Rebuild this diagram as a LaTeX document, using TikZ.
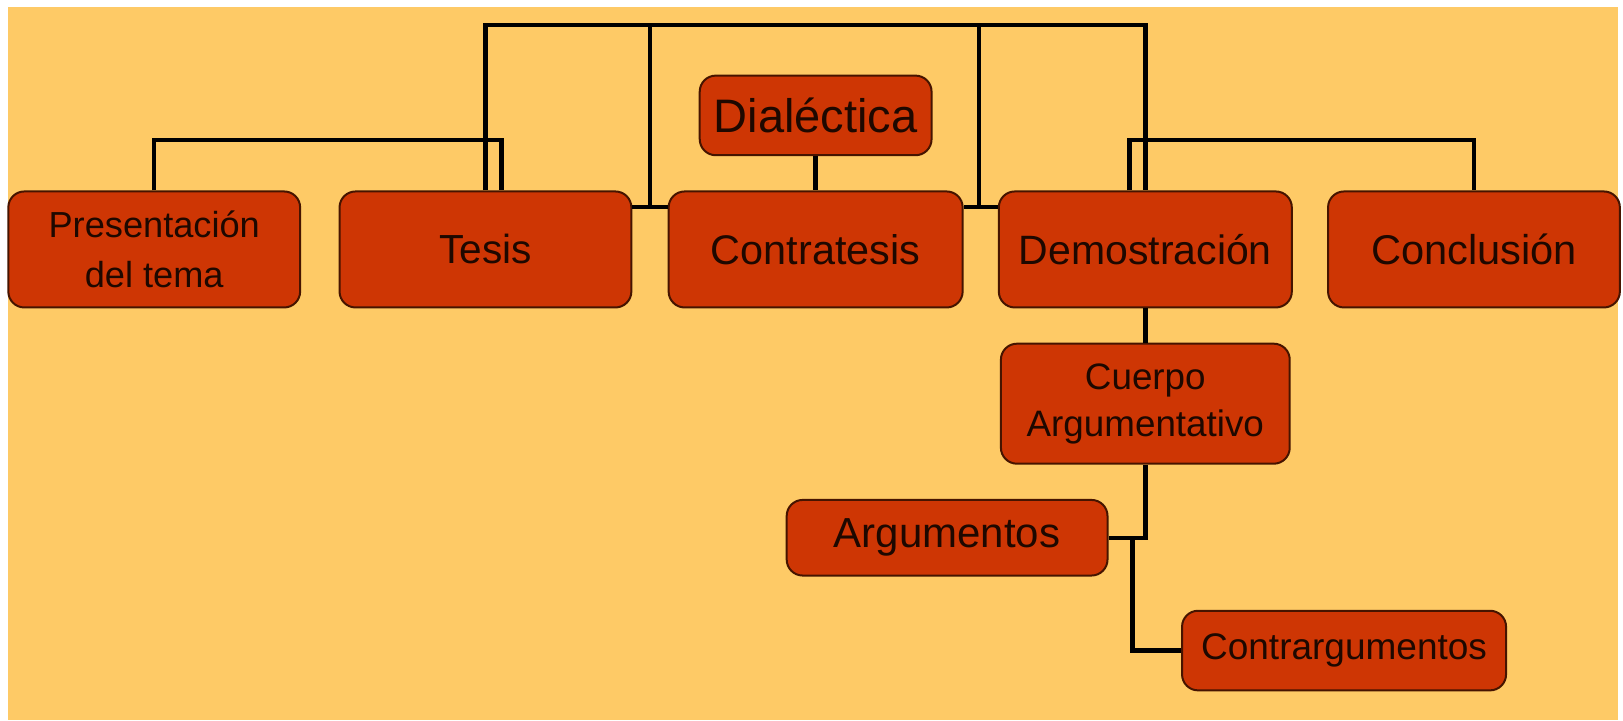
\documentclass[tikz,border=0pt]{standalone}
\usepackage{fontspec}
\setmainfont{Liberation Sans}
\usetikzlibrary{positioning}
\usetikzlibrary{calc}

\definecolor{fondo}{RGB}{254,202,102}
\definecolor{ladrillo}{RGB}{206,54,4}
\definecolor{borde}{RGB}{70,20,0}
\definecolor{letra}{RGB}{30,8,0}

\tikzset{
  caja/.style={draw=borde, line width=1pt, fill=ladrillo, rounded corners=8pt,
    inner sep=0pt, align=center, text=letra},
  linea/.style={draw=black, line width=2.2pt},
}

\begin{document}
\begin{tikzpicture}[x=0.5175pt, y=-0.5175pt]
    \useasboundingbox (0,0) rectangle (1568,696);
    \fill[white] (0,0) rectangle (1568,696);
    \fill[fondo] (7.7,6.8) rectangle (1563,696);

    % fila principal
    \node[caja, minimum width=145.9pt, minimum height=58pt,
      font=\fontsize{18.1pt}{24.8pt}\selectfont] (pres) at (149,241) {Presentación\\del tema};
    \node[caja, minimum width=145.9pt, minimum height=58pt,
      font=\fontsize{20.3pt}{24pt}\selectfont] (tesis) at (469,241) {Tesis};
    \node[caja, minimum width=147pt, minimum height=58pt,
      font=\fontsize{20.7pt}{24pt}\selectfont] (contra) at (788,241) {Contratesis};
    \node[caja, minimum width=146.5pt, minimum height=58pt,
      font=\fontsize{20.5pt}{24pt}\selectfont] (demo) at (1106.5,241) {Demostración};
    \node[caja, minimum width=145.9pt, minimum height=58pt,
      font=\fontsize{20.8pt}{24pt}\selectfont] (concl) at (1424,241) {Conclusión};

    \node[caja, minimum width=115.9pt, minimum height=39.8pt,
      font=\fontsize{23.5pt}{26pt}\selectfont] (dial) at (788,111.5) {Dialéctica};

    % rama de la demostracion
    \node[caja, minimum width=144.4pt, minimum height=60pt,
      font=\fontsize{18.4pt}{23.3pt}\selectfont] (cuerpo) at (1106.5,390) {Cuerpo\\Argumentativo};
    \node[caja, minimum width=160.4pt, minimum height=37.8pt,
      font=\fontsize{21pt}{24pt}\selectfont] (argum) at (915,519.5) {Argumentos};
    \node[caja, minimum width=162pt, minimum height=39.8pt,
      font=\fontsize{18.5pt}{22pt}\selectfont] (contrarg) at (1298.5,628.5) {Contrargumentos};

    \coordinate (bus) at (788,24);
    \coordinate (brL) at (300,135);
    \coordinate (brR) at (1250,135);
    \coordinate (jL) at (628,200);
    \coordinate (jR) at (946,200);

    \draw[linea] (tesis.north) |- (bus) -| (demo.north);
    \draw[linea] (pres.north) |- (brL) -| ([xshift=8pt]tesis.north);
    \draw[linea] ([xshift=-8pt]demo.north) |- (brR) -| (concl.north);
    \draw[linea] (jL |- bus) -- (jL);
    \draw[linea] (jL -| tesis.east) -- (jL -| contra.west);
    \draw[linea] (jR |- bus) -- (jR);
    \draw[linea] (jR -| contra.east) -- (jR -| demo.west);
    \draw[linea] (dial.south) -- (contra.north);
    \draw[linea] (demo.south) -- (cuerpo.north);
    \draw[linea] (cuerpo.south) |- (argum.east);
    \draw[linea] ([xshift=12pt]argum.east) |- (contrarg.west);
\end{tikzpicture}
\end{document}
